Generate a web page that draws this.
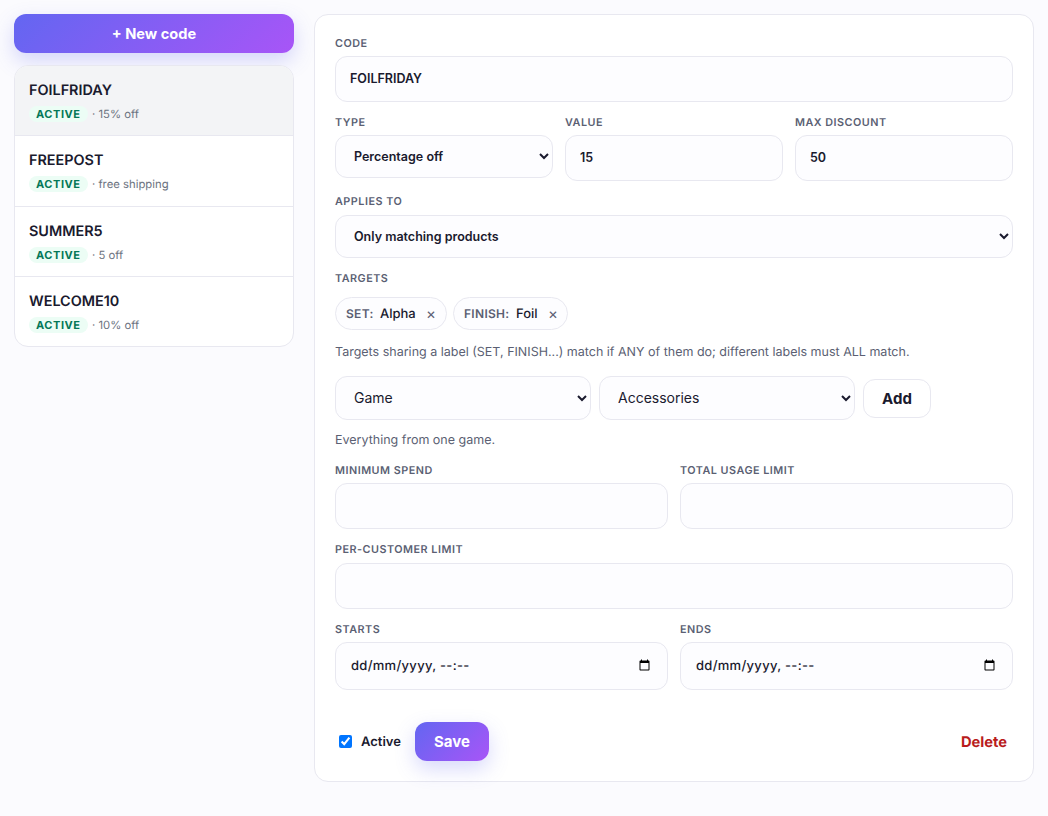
<!DOCTYPE html>
<html lang="en-GB">
<head>
<meta charset="utf-8">
<script src="https://cdn.jsdelivr.net/npm/chart.js@4"></script>
<style>
* { box-sizing: border-box; }
html, body { margin: 0; height: 816px; overflow: hidden; background: #fbfbfe; font-family: Inter, sans-serif; color: #1a1a2e; text-rendering: geometricPrecision; }
.abs, label, input, select, .chip { position: absolute; }
.grad { background: linear-gradient(135deg, #6366f1, #a855f7); color: #fff; border: 0; font-family: Inter; font-weight: 700; box-shadow: 0 8px 20px rgba(99,102,241,.25); padding: 0; }
#list { left: 14px; top: 65px; width: 280px; height: 282px; background: #fff; border: 1px solid #e8e8f0; border-radius: 14px; overflow: hidden; }
.row { position: absolute; left: 0; width: 278px; border-bottom: 1px solid #e8e8f0; }
.row:last-child { border-bottom: 0; }
.row.sel { background: #f3f4f6; }
.name { position: absolute; left: 14px; top: 15px; font-size: 14.4px; line-height: 20px; font-weight: 600; }
.badge { position: absolute; left: 14px; top: 40px; height: 16px; line-height: 16px; padding: 0 7px; border-radius: 99px; background: #ecfdf5; color: #047857; font-size: 11px; font-weight: 700; letter-spacing: .55px; }
.sub { position: absolute; left: 77px; top: 40px; line-height: 16px; font-size: 11.3px; color: #6b7280; }
#panel { left: 314px; top: 14px; width: 720px; height: 768px; background: #fff; border: 1px solid #e8e8f0; border-radius: 14px; }
label { font-size: 10.8px; line-height: 14px; padding-top: 1px; font-weight: 600; letter-spacing: .5px; color: #5b5f73; text-transform: uppercase; }
input, select { background: #fdfdff; border: 1px solid #e8e8f0; border-radius: 12px; font-family: Inter; font-size: 12.5px; color: #1a1a2e; outline: 0; }
input { padding: 0 14px 2px; font-weight: 600; }
select { padding: 0 0 0 14px; font-weight: 600; }
input[type=datetime-local] { font-weight: 500; font-size: 12.8px; }
input[type=datetime-local]::-webkit-datetime-edit { color: transparent; }
select.plain { font-size: 14px; font-weight: 400; padding-bottom: 2px; }
.chip { height: 33px; top: 297px; border: 1px solid #e8e8f0; border-radius: 99px; background: #fdfdff; font-size: 13px; line-height: 31px; font-weight: 500; white-space: nowrap; }
.chip b { position: absolute; left: 10px; top: 0; font-size: 12px; font-weight: 600; letter-spacing: .3px; color: #5b5f73; }
.chip span { position: absolute; top: 1px; }
.chip i { position: absolute; top: 0; font-style: normal; font-size: 15px; font-weight: 400; color: #5b5f73; }
.hint { left: 335px; font-size: 12.5px; line-height: 16px; color: #5b5f73; white-space: nowrap; }
.datetext { top: 658px; font-size: 13px; line-height: 16px; font-weight: 500; letter-spacing: .3px; color: #1a1a2e; }
</style>
</head>
<body>
<button class="abs grad" style="left:14px;top:14px;width:280px;height:39px;border-radius:12px;font-size:14.6px">+ New code</button>
<div class="abs" id="list"></div>
<div class="abs" id="panel"></div>

<label style="left:335px;top:36px">Code</label>
<input style="left:335px;top:56px;width:678px;height:46px" value="FOILFRIDAY">

<label style="left:335px;top:115px">Type</label>
<select style="left:335px;top:135px;width:218px;height:43px"><option>Percentage off</option></select>
<label style="left:565px;top:115px">Value</label>
<input style="left:565px;top:135px;width:218px;height:46px" value="15">
<label style="left:795px;top:115px">Max discount</label>
<input style="left:795px;top:135px;width:218px;height:46px" value="50">

<label style="left:335px;top:194px">Applies to</label>
<select style="left:335px;top:215px;width:678px;height:43px"><option>Only matching products</option></select>

<label style="left:335px;top:271px">Targets</label>
<div class="chip" style="left:335px;width:112px"><b>SET:</b><span style="left:44px">Alpha</span><i style="left:90px">×</i></div>
<div class="chip" style="left:453px;width:115px"><b>FINISH:</b><span style="left:62px">Foil</span><i style="left:94px">×</i></div>
<div class="abs hint" style="top:345px">Targets sharing a label (SET, FINISH...) match if ANY of them do; different labels must ALL match.</div>

<select class="plain" style="left:335px;top:376px;width:256px;height:44px"><option>Game</option></select>
<select class="plain" style="left:599px;top:376px;width:256px;height:44px"><option>Accessories</option></select>
<button class="abs" style="left:863px;top:379px;width:68px;height:39px;background:#fff;border:1px solid #e8e8f0;border-radius:12px;font-family:Inter;font-size:15px;font-weight:700;color:#1a1a2e;padding:0">Add</button>
<div class="abs hint" style="top:433px">Everything from one game.</div>

<label style="left:335px;top:463px">Minimum spend</label>
<input style="left:335px;top:483px;width:333px;height:46px">
<label style="left:680px;top:463px">Total usage limit</label>
<input style="left:680px;top:483px;width:333px;height:46px">

<label style="left:335px;top:542px">Per-customer limit</label>
<input style="left:335px;top:563px;width:678px;height:46px">

<label style="left:335px;top:622px">Starts</label>
<input type="datetime-local" style="left:335px;top:642px;width:333px;height:48px">
<div class="abs datetext" style="left:351px">dd/mm/yyyy, --:--</div>
<label style="left:680px;top:622px">Ends</label>
<input type="datetime-local" style="left:680px;top:642px;width:333px;height:48px">
<div class="abs datetext" style="left:696px">dd/mm/yyyy, --:--</div>

<input type="checkbox" checked style="left:339px;top:735px;width:13px;height:13px;margin:0;padding:0">
<div class="abs" style="left:361px;top:734px;font-size:13px;line-height:16px;font-weight:600">Active</div>
<button class="abs grad" style="left:415px;top:722px;width:74px;height:39px;border-radius:12px;font-size:15px">Save</button>
<div class="abs" style="left:961px;top:733px;font-size:14.7px;line-height:18px;font-weight:700;color:#b91c1c">Delete</div>

<script>
// -- Variables --
const codes = ["FOILFRIDAY", "FREEPOST", "SUMMER5", "WELCOME10"]
const statuses = ["ACTIVE", "ACTIVE", "ACTIVE", "ACTIVE"]
const details = ["· 15% off", "· free shipping", "· 5 off", "· 10% off"]
const rowTops = [0, 70, 141, 211]
const rowHeights = [70, 71, 70, 70]

// -- Functions --
let list = document.getElementById("list")
codes.forEach((code, i) => {
  let row = document.createElement("div")
  row.className = i === 0 ? "row sel" : "row"
  row.style.top = rowTops[i] + "px"
  row.style.height = rowHeights[i] + "px"
  row.innerHTML = `<div class="name">${code}</div><div class="badge">${statuses[i]}</div><div class="sub">${details[i]}</div>`
  list.appendChild(row)
})
</script>
</body>
</html>
